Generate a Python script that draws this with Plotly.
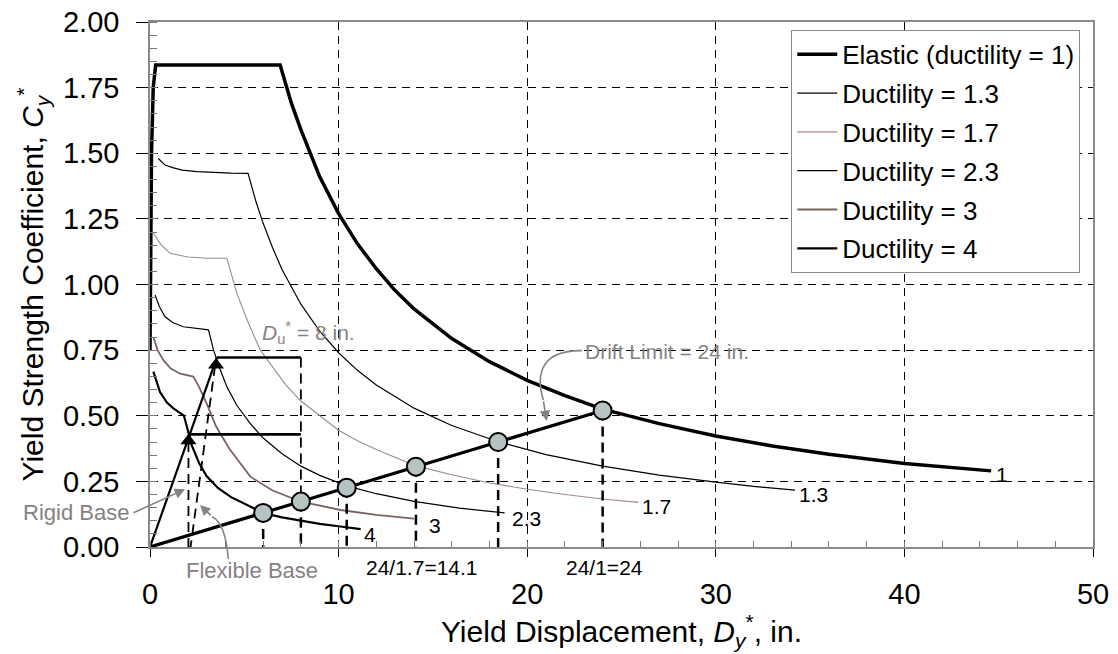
import plotly.graph_objects as go

# ---------------- data ----------------
x_el = [0.0, 0.03, 0.08, 0.17, 0.3, 6.9, 7.5, 8, 9, 10, 11, 12, 13, 14, 16, 18, 20, 22, 24, 27, 30, 33, 36, 40, 44.6]
c_el = [0.75, 1.25, 1.5, 1.75, 1.836, 1.836, 1.69, 1.59, 1.41, 1.27, 1.155, 1.06, 0.977, 0.907, 0.794, 0.706,
        0.635, 0.577, 0.525, 0.47, 0.423, 0.385, 0.353, 0.318, 0.29]

x_13 = [0.44, 0.8, 1.2, 1.7, 2.5, 3.4, 4.3, 5.2, 5.6, 6.0, 6.5, 7, 8, 9, 10, 11, 12, 14, 16, 18.5, 21, 24, 27, 30, 32, 34.2]
c_13 = [1.48, 1.455, 1.445, 1.436, 1.43, 1.426, 1.424, 1.423, 1.32, 1.233, 1.14, 1.057, 0.925, 0.822, 0.74, 0.673,
        0.617, 0.529, 0.463, 0.40, 0.352, 0.308, 0.274, 0.247, 0.231, 0.217]

x_17 = [0.18, 0.6, 1.06, 2.0, 3.0, 4.08, 4.6, 5.2, 5.85, 6.5, 7.2, 8, 9, 10, 11, 12, 14.1, 16, 18, 20, 22, 24, 25.9]
c_17 = [1.195, 1.15, 1.119, 1.105, 1.10, 1.10, 0.967, 0.856, 0.75, 0.685, 0.618, 0.556, 0.50, 0.445, 0.405, 0.371,
        0.309, 0.275, 0.244, 0.22, 0.2, 0.183, 0.17]

x_23 = [0.27, 0.5, 0.8, 1.2, 1.77, 2.5, 3.1, 3.37, 3.7, 4.08, 4.6, 5.32, 6, 7, 8, 9, 10.43, 12, 14, 16.4, 18.8]
c_23 = [0.96, 0.915, 0.877, 0.855, 0.839, 0.832, 0.827, 0.75, 0.68, 0.61, 0.54, 0.47, 0.415, 0.355, 0.308, 0.273,
        0.233, 0.203, 0.174, 0.148, 0.13]

x_3 = [0.18, 0.4, 0.71, 1.1, 1.6, 2.3, 2.6, 3.0, 3.5, 4.2, 5.32, 6.5, 8, 10.1, 12, 14.0]
c_3 = [0.80, 0.75, 0.712, 0.68, 0.66, 0.649, 0.61, 0.547, 0.46, 0.375, 0.268, 0.215, 0.173, 0.141, 0.122, 0.108]

x_4 = [0.18, 0.53, 0.9, 1.24, 1.6, 1.8, 1.95, 2.2, 2.6, 3.0, 3.6, 4.3, 5.5, 6, 7, 8, 9, 10.1, 11.17]
c_4 = [0.668, 0.59, 0.55, 0.528, 0.51, 0.50, 0.46, 0.39, 0.32, 0.27, 0.225, 0.19, 0.148, 0.13, 0.113, 0.1,
       0.088, 0.078, 0.068]

curve_names = ["Elastic (ductility = 1)", "Ductility = 1.3", "Ductility = 1.7",
               "Ductility = 2.3", "Ductility = 3", "Ductility = 4"]
curve_labels = ["1", "1.3", "1.7", "2.3", "3", "4"]
label_x = [44.75, 34.3, 26.0, 19.1, 14.7, 11.25]
label_y = [0.275, 0.2, 0.155, 0.11, 0.082, 0.048]

# drift-limit performance points (24 in. / ductility)
pt_x = [0, 6.0, 8.0, 10.43, 14.1, 18.46, 24.0]
pt_c = [0, 0.13, 0.173, 0.226, 0.306, 0.40, 0.52]

# rigid / flexible base construction
rb_x = [0, 3.55]
rb_c = [0, 0.722]
tri_x = [2.04, 3.5]
tri_c = [0.405, 0.693]
h_lo_x = [2.04, 8.0]
h_lo_c = [0.429, 0.429]
h_hi_x = [3.55, 8.0]
h_hi_c = [0.722, 0.722]
du_x = [8.0, 8.0]
du_c = [0.722, 0.0]
rig_dash_x = [2.04, 2.04]
rig_dash_c = [0.40, 0.0]
flex_dash_x = [3.45, 2.15]
flex_dash_c = [0.69, 0.0]

x_ticks = [0, 10, 20, 30, 40, 50]
y_ticks = [0, 0.25, 0.5, 0.75, 1.0, 1.25, 1.5, 1.75, 2.0]

X_MAX = 50.0
Y_MAX = 2.0

FONT = "Liberation Sans, Arial, sans-serif"
GREY = "#878282"

fig = go.Figure()

styles = [
    dict(color="black", width=3.5),
    dict(color="black", width=1.2),
    dict(color="#9c8c89", width=1.1),
    dict(color="black", width=1.2),
    dict(color="#7a6461", width=1.8),
    dict(color="black", width=2.2),
]
series = [(x_el, c_el), (x_13, c_13), (x_17, c_17), (x_23, c_23), (x_3, c_3), (x_4, c_4)]
for i, ((xs, cs), nm, st) in enumerate(zip(series, curve_names, styles)):
    fig.add_trace(go.Scatter(x=xs, y=cs, mode="lines", name=nm, line=st,
                             legendgroup=f"g{i}", showlegend=True))

# vertical dashed drops from the performance points
for xv, cv in zip(pt_x[1:], pt_c[1:]):
    fig.add_trace(go.Scatter(x=[xv, xv], y=[cv, 0], mode="lines", showlegend=False,
                             line=dict(color="black", width=2.5, dash="10px,6px")))

# construction lines
fig.add_trace(go.Scatter(x=du_x, y=du_c, mode="lines", showlegend=False,
                         line=dict(color="black", width=1.8, dash="10px,6px")))
fig.add_trace(go.Scatter(x=rig_dash_x, y=rig_dash_c, mode="lines", showlegend=False,
                         line=dict(color="black", width=1.8, dash="10px,6px")))
fig.add_trace(go.Scatter(x=flex_dash_x, y=flex_dash_c, mode="lines", showlegend=False,
                         line=dict(color="black", width=1.8, dash="10px,6px")))
fig.add_trace(go.Scatter(x=rb_x, y=rb_c, mode="lines", showlegend=False,
                         line=dict(color="black", width=2.2)))
fig.add_trace(go.Scatter(x=h_lo_x, y=h_lo_c, mode="lines", showlegend=False,
                         line=dict(color="black", width=2.6)))
fig.add_trace(go.Scatter(x=h_hi_x, y=h_hi_c, mode="lines", showlegend=False,
                         line=dict(color="black", width=2.6)))
fig.add_trace(go.Scatter(x=tri_x, y=tri_c, mode="markers", showlegend=False,
                         marker=dict(symbol="triangle-up", size=14, color="black")))

# strength line with points
fig.add_trace(go.Scatter(x=pt_x, y=pt_c, mode="lines", showlegend=False,
                         line=dict(color="black", width=3.2)))
fig.add_trace(go.Scatter(x=pt_x[1:], y=pt_c[1:], mode="markers", showlegend=False,
                         marker=dict(symbol="circle", size=18, color="#b5c3c3",
                                     line=dict(color="black", width=2))))


def px(xv):
    return xv / X_MAX


def py(cv):
    return cv / Y_MAX


def txt(x, y, t, ref="data", color="black", size=21, xanchor="center"):
    r = "x" if ref == "data" else "paper"
    ry = "y" if ref == "data" else "paper"
    return dict(x=x, y=y, xref=r, yref=ry, text=t, showarrow=False,
                xanchor=xanchor, yanchor="middle",
                font=dict(family=FONT, size=size, color=color))


ann = []
for t, lx, ly in zip(curve_labels, label_x, label_y):
    ann.append(txt(lx, ly, t, xanchor="left"))
ann.append(txt(px(14.4), py(-0.078), "24/1.7=14.1", ref="paper"))
ann.append(txt(px(24.1), py(-0.078), "24/1=24", ref="paper"))
ann.append(txt(8.4, 0.818, "<i>D</i><sub>u</sub><sup>*</sup> = 8 in.", color=GREY))
ann.append(txt(22.95, 0.745, "Drift Limit = 24 in.", color=GREY, xanchor="left"))
ann.append(txt(px(-3.9), py(0.13), "Rigid Base", ref="paper", color=GREY, size=22))
ann.append(txt(px(5.4), py(-0.09), "Flexible Base", ref="paper", color=GREY, size=22))
# arrows
ann.append(dict(x=1.86, y=0.22, ax=-0.95, ay=0.128, xref="x", yref="y", axref="x", ayref="y",
                text="", showarrow=True, arrowhead=2, arrowsize=1.3, arrowwidth=1.6, arrowcolor=GREY))
ann.append(dict(x=2.65, y=0.16, ax=3.3, ay=0.115, xref="x", yref="y", axref="x", ayref="y",
                text="", showarrow=True, arrowhead=2, arrowsize=1.3, arrowwidth=1.6, arrowcolor=GREY))
ann.append(dict(x=21.03, y=0.48, ax=20.85, ay=0.56, xref="x", yref="y", axref="x", ayref="y",
                text="", showarrow=True, arrowhead=2, arrowsize=1.3, arrowwidth=1.6, arrowcolor=GREY))

shapes = [
    dict(type="path", xref="paper", yref="paper",
         path=f"M {px(4.15)},{py(-0.045)} Q {px(4.0)},{py(0.09)} {px(3.3)},{py(0.115)}",
         line=dict(color=GREY, width=1.6)),
    dict(type="path", xref="x", yref="y", path="M 22.9,0.748 C 20.3,0.75 20.6,0.62 20.85,0.56",
         line=dict(color=GREY, width=1.6)),
]

fig.update_layout(
    width=1118, height=654,
    margin=dict(l=150, r=25, t=22, b=107, autoexpand=False),
    paper_bgcolor="white", plot_bgcolor="white",
    font=dict(family=FONT, color="black"),
    showlegend=True,
    legend=dict(x=0.68, y=0.985, xanchor="left", yanchor="top",
                bgcolor="white", bordercolor="#8a8a8a", borderwidth=1,
                font=dict(family=FONT, size=26, color="black"),
                traceorder="grouped", tracegroupgap=2, itemwidth=40),
    annotations=ann,
    shapes=shapes,
    xaxis=dict(range=[0, X_MAX], tickvals=x_ticks, ticktext=[str(v) for v in x_ticks],
               tickfont=dict(family=FONT, size=29), ticks="outside", ticklen=8, tickcolor="black",
               showline=True, linecolor="#8a8a8a", linewidth=1.5, mirror=True,
               showgrid=True, gridcolor="black", gridwidth=1.2, griddash="8px,6px",
               zeroline=False, ticklabelstandoff=12, automargin=False,
               minor=dict(dtick=2, ticks="inside", ticklen=6, tickcolor="#777", showgrid=False),
               title=dict(text="Yield Displacement, <i>D<sub>y</sub></i><sup>*</sup>, in.",
                          font=dict(family=FONT, size=30), standoff=12)),
    yaxis=dict(range=[0, Y_MAX], tickvals=y_ticks, ticktext=[f"{v:.2f}" for v in y_ticks],
               tickfont=dict(family=FONT, size=29), ticks="outside", ticklen=12, tickcolor="black",
               showline=True, linecolor="#8a8a8a", linewidth=1.5, mirror=True,
               showgrid=True, gridcolor="black", gridwidth=1.2, griddash="8px,6px",
               zeroline=False, ticklabelstandoff=11, automargin=False,
               minor=dict(dtick=0.05, ticks="inside", ticklen=7, tickcolor="#777", showgrid=False),
               title=dict(text="Yield Strength Coefficient, <i>C<sub>y</sub></i><sup>*</sup>",
                          font=dict(family=FONT, size=30), standoff=10)),
)

fig.write_html("out.html", config={"displayModeBar": False},
               post_script="document.body.style.margin='0';document.body.style.overflow='hidden';")
